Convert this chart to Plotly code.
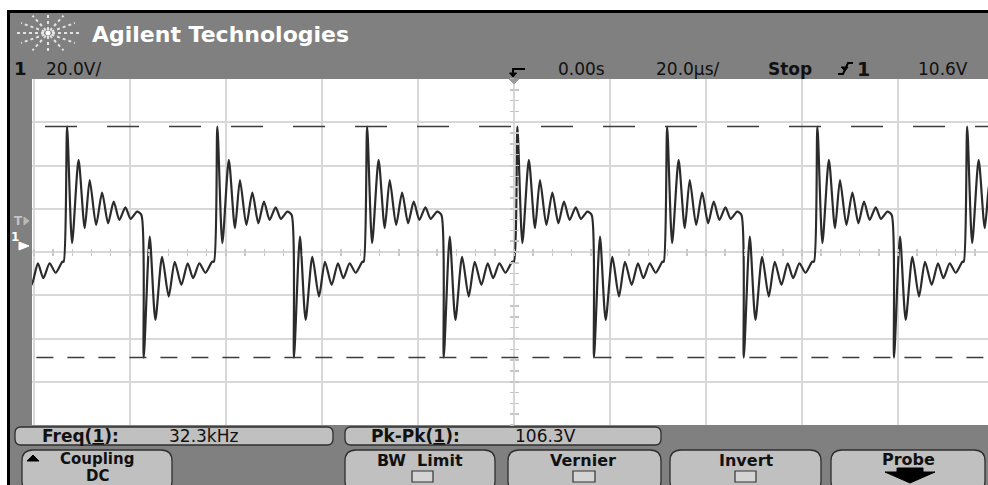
import math
import plotly.graph_objects as go

# ---------------- data ----------------
# one period of the trace, relative to the rising edge: time (us), volts
period_dt = [0.0, 0.71, 1.75, 3.10, 4.38, 5.42, 6.75, 8.00, 9.25, 10.42, 11.60, 12.85,
             13.96, 15.29, 16.19, 16.67, 17.92, 19.10, 20.50, 21.88, 23.13, 24.52,
             25.83, 26.96, 28.27, 29.52, 30.92]
period_v = [-7.3, 55.2, 1.3, 39.8, 8.2, 30.5, 9.7, 24.7, 10.5, 20.5, 12.0, 17.9,
            12.5, 15.9, 14.3, -51.6, 4.3, -34.2, -5.0, -23.4, -7.3, -18.0,
            -8.0, -14.9, -8.0, -12.4, -7.3]
# rising edge times across the screen (us)
edge_times = [-125.0, -93.8, -62.5, -31.3, 0.0, 31.2, 62.5, 93.7]
# Pk-Pk measurement cursors (V)
vmax_level = 55.2
vmin_level = -51.6
# readouts
title_text = "Agilent Technologies"
ch_scale = "20.0V/"
time_pos = "0.00s"
time_scale = "20.0µs/"
run_state = "Stop"
trig_level = "10.6V"
freq_label, freq_value = "Freq(<u>1</u>):", "32.3kHz"
pkpk_label, pkpk_value = "Pk-Pk(<u>1</u>):", "106.3V"
softkeys = ["Coupling", "BW  Limit", "Vernier", "Invert", "Probe"]

X_RANGE = [-100.4, 98.75]
Y_RANGE = [-82.8, 77.2]
Y_CENTER = -2.8

W, H = 988, 485


def X(px):
    return px / W


def Y(py):
    return 1 - py / H


wave_t, wave_v = [], []
for t0 in edge_times:
    for dt, v in zip(period_dt, period_v):
        wave_t.append(t0 + dt)
        wave_v.append(v)

fig = go.Figure()

# waveform
fig.add_trace(go.Scatter(x=wave_t, y=wave_v, mode="lines",
                         line=dict(color="#2b2b2b", width=2.2, shape="spline",
                                   smoothing=0.7),
                         hoverinfo="skip", showlegend=False))
# Pk-Pk cursors
fig.add_trace(go.Scatter(x=[-110.6, 100], y=[vmax_level, vmax_level], mode="lines",
                         line=dict(color="#3c3c3c", width=1.5, dash="32px,30px"),
                         hoverinfo="skip", showlegend=False))
fig.add_trace(go.Scatter(x=[-112.4, 100], y=[vmin_level, vmin_level], mode="lines",
                         line=dict(color="#3c3c3c", width=1.5, dash="17px,14px"),
                         hoverinfo="skip", showlegend=False))
# empty traces to activate centre-line tick axes
fig.add_trace(go.Scatter(x=[], y=[], xaxis="x2", yaxis="y2", showlegend=False))
fig.add_trace(go.Scatter(x=[], y=[], xaxis="x3", yaxis="y3", showlegend=False))

dom_x = [X(32), 1.0]
dom_y = [Y(425), Y(79)]
grid = "#d8d8d8"
tickc = "#c6c6c6"

layout = dict(
    width=W, height=H, margin=dict(l=0, r=0, t=0, b=0),
    paper_bgcolor="#808080", plot_bgcolor="white", showlegend=False,
    xaxis=dict(domain=dom_x, range=X_RANGE, tick0=0, dtick=20, showgrid=True,
               gridcolor=grid, gridwidth=2, zeroline=False, showticklabels=False,
               ticks="", showline=False, fixedrange=True),
    yaxis=dict(domain=dom_y, range=Y_RANGE, tick0=Y_CENTER, dtick=20, showgrid=True,
               gridcolor=grid, gridwidth=2, zeroline=False, showticklabels=False,
               ticks="", showline=False, fixedrange=True),
    xaxis2=dict(overlaying="x", anchor="free", position=Y(252), range=X_RANGE,
                tick0=0, dtick=4, ticks="outside", ticklen=3, tickwidth=1.5,
                tickcolor=tickc, showgrid=False, zeroline=False,
                showticklabels=False, showline=False, fixedrange=True),
    xaxis3=dict(overlaying="x", anchor="free", position=Y(252), range=X_RANGE,
                tick0=0, dtick=4, ticks="inside", ticklen=3, tickwidth=1.5,
                tickcolor=tickc, showgrid=False, zeroline=False,
                showticklabels=False, showline=False, fixedrange=True),
    yaxis2=dict(overlaying="y", anchor="free", position=X(514), range=Y_RANGE,
                tick0=Y_CENTER, dtick=5, ticks="outside", ticklen=4, tickwidth=1.5,
                tickcolor=tickc, showgrid=False, zeroline=False,
                showticklabels=False, showline=False, fixedrange=True),
    yaxis3=dict(overlaying="y", anchor="free", position=X(514), range=Y_RANGE,
                tick0=Y_CENTER, dtick=5, ticks="inside", ticklen=4, tickwidth=1.5,
                tickcolor=tickc, showgrid=False, zeroline=False,
                showticklabels=False, showline=False, fixedrange=True),
)
fig.update_layout(**layout)

shapes = []


def rect(x0, y0, x1, y1, fill, line=None, lw=0):
    shapes.append(dict(type="rect", xref="paper", yref="paper",
                       x0=X(x0), x1=X(x1), y0=Y(y1), y1=Y(y0),
                       fillcolor=fill, line=dict(color=line or fill, width=lw)))


def rrect(x0, y0, x1, y1, r, fill, line, lw):
    p = (f"M {X(x0+r)},{Y(y0)} L {X(x1-r)},{Y(y0)} Q {X(x1)},{Y(y0)} {X(x1)},{Y(y0+r)} "
         f"L {X(x1)},{Y(y1-r)} Q {X(x1)},{Y(y1)} {X(x1-r)},{Y(y1)} "
         f"L {X(x0+r)},{Y(y1)} Q {X(x0)},{Y(y1)} {X(x0)},{Y(y1-r)} "
         f"L {X(x0)},{Y(y0+r)} Q {X(x0)},{Y(y0)} {X(x0+r)},{Y(y0)} Z")
    shapes.append(dict(type="path", xref="paper", yref="paper", path=p,
                       fillcolor=fill, line=dict(color=line, width=lw)))


def poly(pts, fill=None, line="black", lw=1.5, closed=True):
    p = "M " + " L ".join(f"{X(a)},{Y(b)}" for a, b in pts) + (" Z" if closed else "")
    d = dict(type="path", xref="paper", yref="paper", path=p,
             line=dict(color=line, width=lw))
    if fill:
        d["fillcolor"] = fill
    shapes.append(d)


# outer white margin + black bezel line
rect(0, 0, 988, 10, "white")
rect(0, 0, 7, 485, "white")
rect(7, 10, 988, 13, "black")
rect(7, 10, 10, 485, "black")

# logo spark
cx, cy = 48, 33
for k in range(12):
    a = math.radians(k * 30)
    rx, ry = 31, 20
    shapes.append(dict(type="line", xref="paper", yref="paper",
                       x0=X(cx + 4 * math.cos(a)), y0=Y(cy - 3 * math.sin(a)),
                       x1=X(cx + rx * math.cos(a)), y1=Y(cy - ry * math.sin(a)),
                       line=dict(color="#e4e4e4", width=2, dash="dot")))
shapes.append(dict(type="circle", xref="paper", yref="paper",
                   x0=X(cx - 2.5), x1=X(cx + 2.5), y0=Y(cy + 2.5), y1=Y(cy - 2.5),
                   fillcolor="white", line=dict(color="white", width=0)))

# trigger position marker at top centre
poly([(525, 69), (513, 69), (513, 74)], line="black", lw=2, closed=False)
poly([(509.5, 73), (516.5, 73), (513, 77)], fill="black", line="black", lw=1)
poly([(509, 79), (519, 79), (514, 84)], fill="#9a9a9a", line="#9a9a9a", lw=1)

# trigger slope symbol
poly([(838, 74), (843, 74), (848, 63), (853, 63)], line="black", lw=2, closed=False)
poly([(841, 67), (848, 67), (845, 71)], fill="black", line="black", lw=1)

# left strip markers (trigger level T and ground 1)
poly([(24, 217), (29, 221), (24, 225)], fill="#b8b8b8", line="#b8b8b8", lw=1)
poly([(19, 242), (29, 246), (19, 250)], fill="white", line="white", lw=1)

# measurement boxes
rrect(15, 427, 333, 445, 6, "#c0c0c0", "#2e2e2e", 1.3)
rrect(345, 427, 661, 445, 6, "#c0c0c0", "#2e2e2e", 1.3)
# softkeys
keys_x = [(22, 172), (345, 495), (508, 661), (670, 821), (831, 985)]
for (a, b) in keys_x:
    rrect(a, 450, b, 492, 11, "#c0c0c0", "#2e2e2e", 1.3)
# checkbox squares
for (a, b) in [(412, 433), (573, 595), (735, 756)]:
    rect(a, 471, b, 482, "#d4d4d4", "#333333", 1.2)
# coupling up-arrow
poly([(27, 461), (39, 461), (33, 455)], fill="black", line="black", lw=1)
# probe down-arrow
poly([(897, 468), (923, 468), (923, 472), (935, 472), (910, 483), (885, 472), (897, 472)],
     fill="black", line="black", lw=1)

fig.update_layout(shapes=shapes)

ann = []


def txt(s, x, y, size, color="#111111", bold=False, anchor="center", fam="DejaVu Sans"):
    ann.append(dict(text=(f"<b>{s}</b>" if bold else s), x=X(x), y=Y(y),
                    xref="paper", yref="paper", xanchor=anchor, yanchor="middle",
                    showarrow=False, font=dict(family=fam, size=size, color=color)))


txt(title_text, 90, 35, 22, color="white", bold=True, anchor="left")
txt("1", 20, 69, 18, bold=True)
txt(ch_scale, 73, 69, 17)
txt(time_pos, 581, 69, 17)
txt(time_scale, 688, 69, 17)
txt(run_state, 790, 69, 17, bold=True)
txt("1", 863, 69, 19, bold=True)
txt(trig_level, 943, 69, 17)
txt("T", 18, 221, 12, color="#c4c4c4", bold=True)
txt("1", 15, 237, 12, color="white", bold=True)

txt(freq_label, 80, 436, 17, bold=True)
txt(freq_value, 203, 436, 17)
txt(pkpk_label, 415, 436, 17, bold=True)
txt(pkpk_value, 545, 436, 17)

txt(softkeys[0], 97, 459, 15, bold=True)
txt("DC", 97, 476, 15, bold=True)
txt(softkeys[1], 420, 460, 16, bold=True)
txt(softkeys[2], 583, 460, 16, bold=True)
txt(softkeys[3], 746, 460, 16, bold=True)
txt(softkeys[4], 908, 459, 16, bold=True)

fig.update_layout(annotations=ann)

fig.write_html("out.html", config={"displayModeBar": False, "staticPlot": True})
